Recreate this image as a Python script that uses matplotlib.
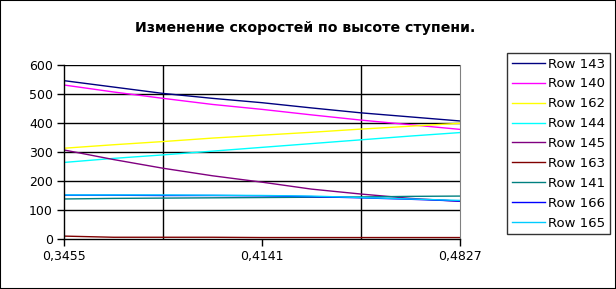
import matplotlib
matplotlib.use("Agg")
import matplotlib.pyplot as plt
import numpy as np

# height positions along the stage
x = np.linspace(0.3455, 0.4827, 9)
x_labels = ["0,3455", "0,4141", "0,4827"]

row_143 = [546, 524, 502, 485, 470, 452, 435, 421, 407]
row_140 = [531, 507, 485, 464, 447, 428, 410, 394, 378]
row_162 = [313, 325, 336, 348, 358, 368, 379, 389, 399]
row_144 = [264, 278, 290, 303, 316, 329, 342, 355, 367]
row_145 = [307, 274, 244, 218, 196, 172, 155, 140, 130]
row_163 = [10, 6, 6, 6, 5, 5, 5, 5, 5]
row_141 = [138, 140, 141, 142, 143, 144, 145, 147, 148]
row_166 = [151, 151, 150, 150, 149, 146, 142, 137, 131]
row_165 = [152, 152, 152, 151, 150, 148, 143, 138, 133]

series = [
    ("Row 143", row_143, "#000080"),
    ("Row 140", row_140, "#FF00FF"),
    ("Row 162", row_162, "#FFFF00"),
    ("Row 144", row_144, "#00FFFF"),
    ("Row 145", row_145, "#800080"),
    ("Row 163", row_163, "#800000"),
    ("Row 141", row_141, "#008080"),
    ("Row 166", row_166, "#0000FF"),
    ("Row 165", row_165, "#00CCFF"),
]

fig = plt.figure(figsize=(6.16, 2.89), dpi=100)
ax = fig.add_axes([64 / 616, 1 - 239 / 289, (460 - 64) / 616, (239 - 65) / 289])

for label, vals, col in series:
    ax.plot(x, vals, color=col, lw=1, label=label)

ax.set_xlim(x[0], x[-1])
ax.set_ylim(0, 600)
ax.set_yticks(range(0, 601, 100))
ax.set_xticks([x[0], x[4], x[-1]])
ax.set_xticklabels(x_labels)
ax.tick_params(labelsize=9, length=5, width=1, color="black", pad=3)

# horizontal and vertical grid lines like the Excel chart
for yv in range(100, 601, 100):
    ax.axhline(yv, color="black", lw=1, zorder=0)
for xv in [x[2], x[6]]:
    ax.axvline(xv, color="black", lw=1, zorder=0)

ax.spines["top"].set_visible(False)
ax.spines["right"].set_color("#808080")
ax.spines["left"].set_linewidth(1)
ax.spines["bottom"].set_linewidth(1)

fig.text(305 / 616, 1 - 28 / 289, "Изменение скоростей по высоте ступени.",
         ha="center", va="center", fontsize=10.2, fontweight="bold")

leg = fig.legend(loc="upper left", bbox_to_anchor=(507 / 616, 1 - 53 / 289),
                 fontsize=9.5, frameon=True, fancybox=False, handlelength=2.5,
                 handletextpad=0.25, labelspacing=0.52, borderpad=0.35,
                 borderaxespad=0)
leg.get_frame().set_edgecolor("black")
leg.get_frame().set_linewidth(1)

fig.patches.append(plt.Rectangle((0, 0), 1, 1, transform=fig.transFigure,
                                 fill=False, edgecolor="black", lw=1.5))

fig.savefig("out.png", dpi=100)
